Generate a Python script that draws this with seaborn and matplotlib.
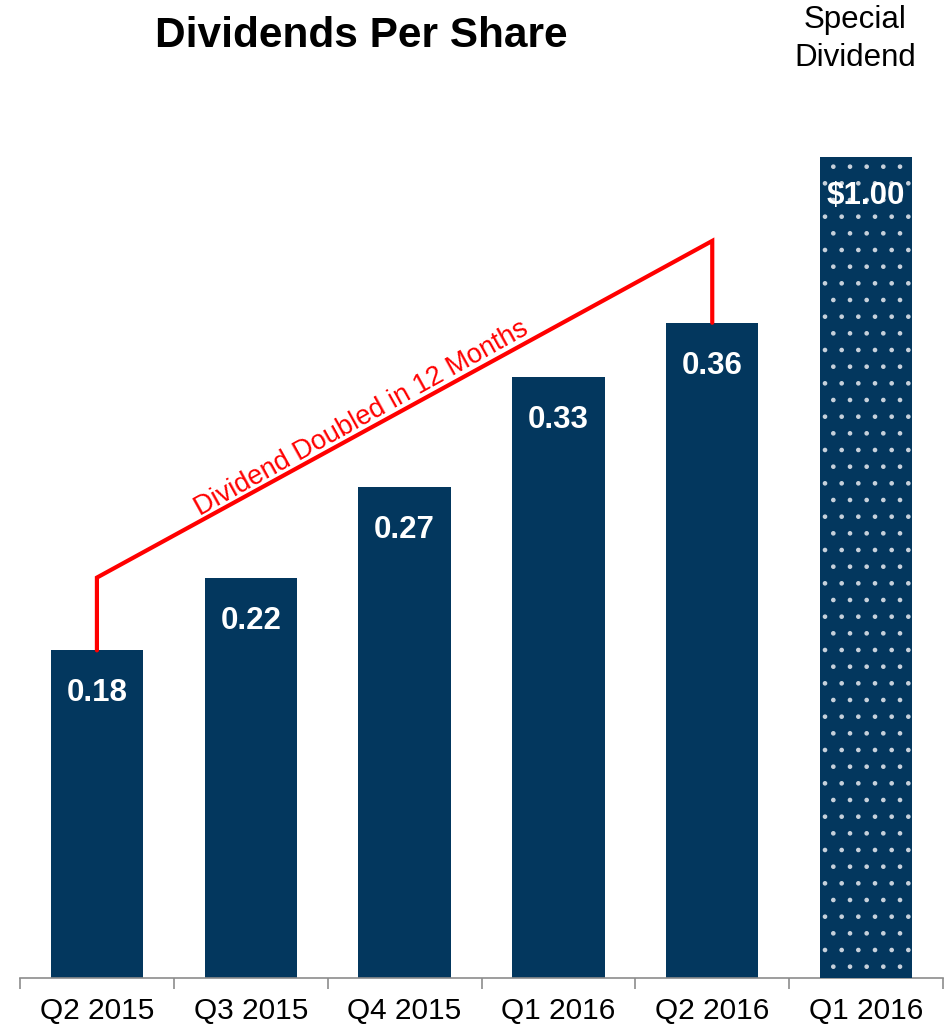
import matplotlib
matplotlib.use("Agg")
import matplotlib.pyplot as plt
import seaborn as sns
import numpy as np
import pandas as pd

# ---- data ----
quarters = ["Q2 2015", "Q3 2015", "Q4 2015", "Q1 2016", "Q2 2016"]
dividends = [0.18, 0.22, 0.27, 0.33, 0.36]
special_label = ["Q1 2016 "]  # distinct category key for the special bar
special_values = [1.00]
tick_labels = ["Q2 2015", "Q3 2015", "Q4 2015", "Q1 2016", "Q2 2016", "Q1 2016"]
value_labels = ["0.18", "0.22", "0.27", "0.33", "0.36"]
special_text = ["$1.00"]
annotation_text = "Dividend Doubled in 12 Months"
bracket_left_top = 0.22
bracket_right_top = 0.405

sns.set_theme(style="white")
plt.rcParams["font.family"] = ["Liberation Sans", "DejaVu Sans"]
plt.rcParams["text.color"] = "black"
plt.rcParams["hatch.color"] = "#C8D2DC"
plt.rcParams["hatch.linewidth"] = 0.9

navy = "#03375E"
order = quarters + special_label

df_main = pd.DataFrame({"q": quarters, "v": dividends})
df_spec = pd.DataFrame({"q": special_label, "v": special_values})

fig = plt.figure(figsize=(9.47, 10.28), dpi=100)
W, H = 947, 1028
ax = fig.add_axes([20 / W, 50 / H, 923 / W, 838 / H])

sns.barplot(data=df_main, x="q", y="v", order=order, color=navy, width=0.6,
            saturation=1, ax=ax, edgecolor=navy, linewidth=0)
ax.set_ylim(0, 838 / 1820)

ax2 = ax.twinx()
sns.barplot(data=df_spec, x="q", y="v", order=order, color=navy, width=0.6,
            saturation=1, ax=ax2, linewidth=0)
for p in ax2.patches:
    p.set_hatch(".")
    p.set_edgecolor("#C8D2DC")
    p.set_linewidth(0)
ax2.set_ylim(0, 838 / 821)
ax2.set_yticks([])
ax2.set_ylabel("")
for s in ax2.spines.values():
    s.set_visible(False)

# value labels
for i, (v, t) in enumerate(zip(dividends, value_labels)):
    ax.annotate(t, (i, v), xytext=(0, -43 * 0.72), textcoords="offset points",
                ha="center", va="center", color="white", fontsize=22.5,
                fontweight="bold")
ax2.annotate(special_text[0], (5, special_values[0]), xytext=(0, -39 * 0.72),
             textcoords="offset points", ha="center", va="center",
             color="white", fontsize=22.5, fontweight="bold")

# red bracket annotation
xs = [0, 0, 4, 4]
ys = [dividends[0], bracket_left_top, bracket_right_top, dividends[4]]
ax.plot(xs, ys, color="#FF0000", lw=3, solid_joinstyle="miter", zorder=5)
ax.text(1.72, 0.3075, annotation_text, color="#FF0000", fontsize=19.5,
        rotation=29, rotation_mode="anchor", ha="center", va="center")

# axes styling
ax.set_xlim(-0.5, 5.5)
ax.set_xlabel("")
ax.set_ylabel("")
ax.set_yticks([])
ax.set_xticks(range(6))
ax.set_xticklabels(tick_labels, fontsize=21.5, color="black")
ax.tick_params(axis="x", length=0, pad=14)
ax.set_xticks(np.arange(-0.5, 6.0, 1.0), minor=True)
ax.tick_params(axis="x", which="minor", length=8, width=1.2, color="#8C8C8C",
               direction="out", bottom=True)
for k in ["top", "left", "right"]:
    ax.spines[k].set_visible(False)
ax.spines["bottom"].set_color("#8C8C8C")
ax.spines["bottom"].set_linewidth(1.2)

fig.text(361 / W, 1 - 36 / H, "Dividends Per Share", fontsize=30.5,
         fontweight="bold", ha="center", va="center", color="black")
fig.text(855 / W, 1 - 20 / H, "Special", fontsize=22.5,
         ha="center", va="center", color="black")
fig.text(855 / W, 1 - 58 / H, "Dividend", fontsize=22.5,
         ha="center", va="center", color="black")

fig.savefig("out.png", dpi=100)
